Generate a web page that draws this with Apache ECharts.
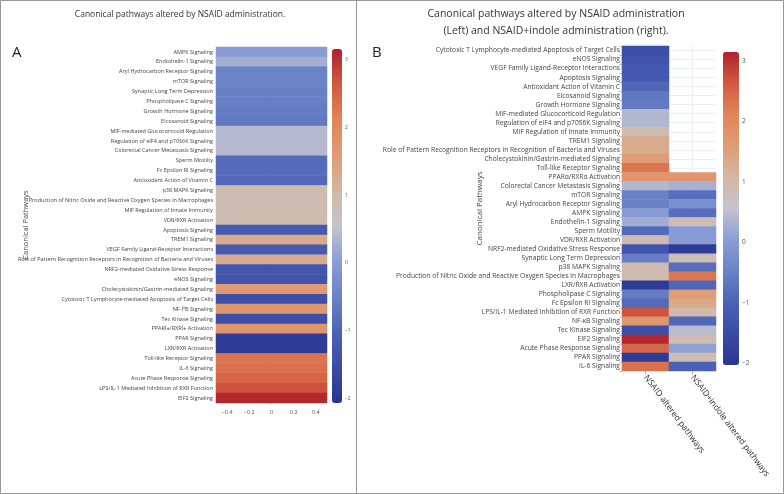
<!DOCTYPE html>
<html>
<head>
<meta charset="utf-8">
<script src="https://cdn.jsdelivr.net/npm/echarts@6/dist/echarts.min.js"></script>
<style>html,body{margin:0;padding:0;background:#fff;}#c{width:784px;height:494px;}</style>
</head>
<body>
<div id="c"></div>
<script>
const pathwaysA = ["AMPK Signaling","Endothelin-1 Signaling","Aryl Hydrocarbon Receptor Signaling","mTOR Signaling","Synaptic Long Term Depression","Phospholipase C Signaling","Growth Hormone Signaling","Eicosanoid Signaling","MIF-mediated Glucocorticoid Regulation","Regulation of eIF4 and p70S6K Signaling","Colorectal Cancer Metastasis Signaling","Sperm Motility","Fc Epsilon RI Signaling","Antioxidant Action of Vitamin C","p38 MAPK Signaling","Production of Nitric Oxide and Reactive Oxygen Species in Macrophages","MIF Regulation of Innate Immunity","VDR/RXR Activation","Apoptosis Signaling","TREM1 Signaling","VEGF Family Ligand-Receptor Interactions","Role of Pattern Recognition Receptors in Recognition of Bacteria and Viruses","NRF2-mediated Oxidative Stress Response","eNOS Signaling","Cholecystokinin/Gastrin-mediated Signaling","Cytotoxic T Lymphocyte-mediated Apoptosis of Target Cells","NF-ÎºB Signaling","Tec Kinase Signaling","PPARÎ±/RXRÎ± Activation","PPAR Signaling","LXR/RXR Activation","Toll-like Receptor Signaling","IL-6 Signaling","Acute Phase Response Signaling","LPS/IL-1 Mediated Inhibition of RXR Function","EIF2 Signaling"];
const valuesA = [0.0, 0.25, -0.5, -0.5, -0.55, -0.55, -0.6, -0.65, 0.4, 0.4, 0.4, -0.85, -0.85, -0.9, 0.9, 0.9, 0.9, 0.9, -1.2, 1.3, -1.2, 1.3, -1.3, -1.35, 1.6, -1.45, 1.7, -1.45, 1.75, -1.9, -1.9, 2.3, 2.35, 2.5, 2.7, 3.1];

const pathwaysB = ["Cytotoxic T Lymphocyte-mediated Apoptosis of Target Cells","eNOS Signaling","VEGF Family Ligand-Receptor Interactions","Apoptosis Signaling","Antioxidant Action of Vitamin C","Eicosanoid Signaling","Growth Hormone Signaling","MIF-mediated Glucocorticoid Regulation","Regulation of eIF4 and p70S6K Signaling","MIF Regulation of Innate Immunity","TREM1 Signaling","Role of Pattern Recognition Receptors in Recognition of Bacteria and Viruses","Cholecystokinin/Gastrin-mediated Signaling","Toll-like Receptor Signaling","PPARα/RXRα Activation","Colorectal Cancer Metastasis Signaling","mTOR Signaling","Aryl Hydrocarbon Receptor Signaling","AMPK Signaling","Endothelin-1 Signaling","Sperm Motility","VDR/RXR Activation","NRF2-mediated Oxidative Stress Response","Synaptic Long Term Depression","p38 MAPK Signaling","Production of Nitric Oxide and Reactive Oxygen Species in Macrophages","LXR/RXR Activation","Phospholipase C Signaling","Fc Epsilon RI Signaling","LPS/IL-1 Mediated Inhibition of RXR Function","NF-κB Signaling","Tec Kinase Signaling","EIF2 Signaling","Acute Phase Response Signaling","PPAR Signaling","IL-6 Signaling"];
const columnsB = ["NSAID altered pathways","NSAID+indole altered pathways"];
const nsaidB = [-1.45, -1.35, -1.2, -1.2, -0.9, -0.65, -0.6, 0.4, 0.4, 0.9, 1.3, 1.3, 1.6, 2.3, 1.75, 0.4, -0.5, -0.5, 0.0, 0.25, -0.85, 0.9, -1.3, -0.55, 0.9, 0.9, -1.9, -0.55, -0.85, 2.7, 1.7, -1.45, 3.1, 2.5, -1.9, 2.35];
const indoleB = [null, null, null, null, null, null, null, null, null, null, null, null, null, null, 1.7, 0.3, -0.8, -0.2, -0.8, 0.85, 0.0, 0.0, -1.85, 0.85, -0.8, 2.3, -0.95, 1.6, 1.35, 1.0, -0.9, 0.45, 0.9, 0.1, 0.85, -1.05];

const colorbarA = [-2.06, 3.15];
const colorbarB = [-2.03, 3.15];
const colorScale = ['#2a3590','#3a4ba6','#4c62b6','#6a82c6','#8a9dd6','#c4c4cc','#d3b7a3','#e09c74','#e2855a','#d05a40','#b0222d'];

const FONT = 'Open Sans';
const dataA = valuesA.map((v, i) => [0, i, v]);
const dataB = [];
nsaidB.forEach((v, i) => { if (v !== null) dataB.push([0, i, v]); });
indoleB.forEach((v, i) => { if (v !== null) dataB.push([1, i, v]); });

const minusFmt = v => String(v).replace('-', '\u2212');

const chart = echarts.init(document.getElementById('c'), null, {renderer: 'canvas'});
chart.setOption({
  backgroundColor: '#fff',
  animation: false,
  grid: [
    {left: 216, top: 47, width: 111, height: 356},
    {left: 332, top: 49, width: 10, height: 354},
    {left: 622, top: 46, width: 94, height: 325},
    {left: 723, top: 52, width: 16, height: 313}
  ],
  xAxis: [
    {gridIndex: 0, type: 'category', data: ['A'], show: false},
    {gridIndex: 0, type: 'value', min: -0.5, max: 0.5, splitNumber: 5, position: 'bottom',
     axisLine: {show: false}, axisTick: {show: false}, splitLine: {show: false},
     axisLabel: {showMinLabel: false, showMaxLabel: false, fontFamily: FONT, fontSize: 5.5, color: '#555', margin: 6, formatter: minusFmt}},
    {gridIndex: 1, type: 'value', show: false},
    {gridIndex: 2, type: 'category', data: columnsB,
     axisLine: {show: false}, axisTick: {show: true, alignWithLabel: true, length: 4, lineStyle: {color: '#bbb'}},
     axisLabel: {rotate: -53, fontFamily: FONT, fontSize: 8.5, color: '#333', margin: 5, interval: 0}},
    {gridIndex: 2, type: 'category', boundaryGap: false, data: ['', '', '', '', ''], show: true,
     axisLine: {show: false}, axisTick: {show: false}, axisLabel: {show: false},
     splitLine: {show: true, interval: (i) => i === 1 || i === 3, lineStyle: {color: '#ebf0f8', width: 1}}},
    {gridIndex: 3, type: 'value', show: false}
  ],
  yAxis: [
    {gridIndex: 0, type: 'category', data: pathwaysA, inverse: true,
     name: 'Canonical Pathways', nameLocation: 'middle', nameGap: 186, nameRotate: 90, nameMoveOverlap: false,
     nameTextStyle: {fontFamily: FONT, fontSize: 7.5, color: '#444'},
     axisLine: {show: false}, axisTick: {show: true, length: 2, lineStyle: {color: '#ccc'}},
     axisLabel: {fontFamily: FONT, fontSize: 5.5, color: '#444', margin: 3, interval: 0}},
    {gridIndex: 1, type: 'value', position: 'right', min: colorbarA[0], max: colorbarA[1], splitNumber: 5,
     axisLine: {show: false}, axisTick: {show: false}, splitLine: {show: false},
     axisLabel: {showMinLabel: false, showMaxLabel: false, fontFamily: FONT, fontSize: 5, color: '#555', margin: 3, formatter: minusFmt}},
    {gridIndex: 2, type: 'category', data: pathwaysB, inverse: true,
     name: 'Canonical Pathways', nameLocation: 'middle', nameGap: 138, nameRotate: 90, nameMoveOverlap: false,
     nameTextStyle: {fontFamily: FONT, fontSize: 8, color: '#444'},
     axisLine: {show: false}, axisTick: {show: true, length: 3, lineStyle: {color: '#ccc'}},
     axisLabel: {fontFamily: FONT, fontSize: 6.7, color: '#444', margin: 2, interval: 0}},
    {gridIndex: 2, type: 'category', boundaryGap: false, data: Array.from({length: 73}, () => ''), inverse: true,
     axisLine: {show: false}, axisTick: {show: false}, axisLabel: {show: false},
     splitLine: {show: true, interval: (i) => i % 2 === 1, lineStyle: {color: '#ebf0f8', width: 1}}},
    {gridIndex: 3, type: 'value', position: 'right', min: colorbarB[0], max: colorbarB[1], splitNumber: 5,
     axisLine: {show: false}, axisTick: {show: false}, splitLine: {show: false},
     axisLabel: {showMinLabel: false, showMaxLabel: false, fontFamily: FONT, fontSize: 6.5, color: '#555', margin: 3, formatter: minusFmt}}
  ],
  visualMap: [
    {type: 'continuous', seriesIndex: 0, min: colorbarA[0], max: colorbarA[1], calculable: false,
     left: 332, top: 49, itemWidth: 10, itemHeight: 354, padding: 0, text: null, showLabel: false,
     inRange: {color: colorScale}},
    {type: 'continuous', seriesIndex: 1, min: colorbarB[0], max: colorbarB[1], calculable: false,
     left: 723, top: 52, itemWidth: 16, itemHeight: 313, padding: 0, text: null, showLabel: false,
     inRange: {color: colorScale}}
  ],
  series: [
    {type: 'heatmap', xAxisIndex: 0, yAxisIndex: 0, data: dataA, itemStyle: {borderWidth: 0}},
    {type: 'heatmap', xAxisIndex: 3, yAxisIndex: 2, data: dataB, itemStyle: {borderWidth: 0}}
  ],
  graphic: [
    {type: 'rect', shape: {x: 0.5, y: 0.5, width: 783, height: 493}, style: {fill: 'none', stroke: '#999', lineWidth: 1}, silent: true},
    {type: 'line', shape: {x1: 356.5, y1: 0, x2: 356.5, y2: 494}, style: {stroke: '#999', lineWidth: 1}, silent: true},
    {type: 'text', x: 180, y: 15, style: {text: 'Canonical pathways altered by NSAID administration.', fontFamily: FONT, fontSize: 8.5, fill: '#333', textAlign: 'center', textVerticalAlign: 'middle'}},
    {type: 'text', x: 556, y: 14, style: {text: 'Canonical pathways altered by NSAID administration', fontFamily: FONT, fontSize: 10.5, fill: '#333', textAlign: 'center', textVerticalAlign: 'middle'}},
    {type: 'text', x: 556, y: 31, style: {text: '(Left) and NSAID+indole administration (right).', fontFamily: FONT, fontSize: 10.5, fill: '#333', textAlign: 'center', textVerticalAlign: 'middle'}},
    {type: 'text', x: 12, y: 53, style: {text: 'A', fontFamily: FONT, fontSize: 15, fill: '#222', textVerticalAlign: 'middle'}},
    {type: 'text', x: 372, y: 53, style: {text: 'B', fontFamily: FONT, fontSize: 15, fill: '#222', textVerticalAlign: 'middle'}}
  ]
});
</script>
</body>
</html>
